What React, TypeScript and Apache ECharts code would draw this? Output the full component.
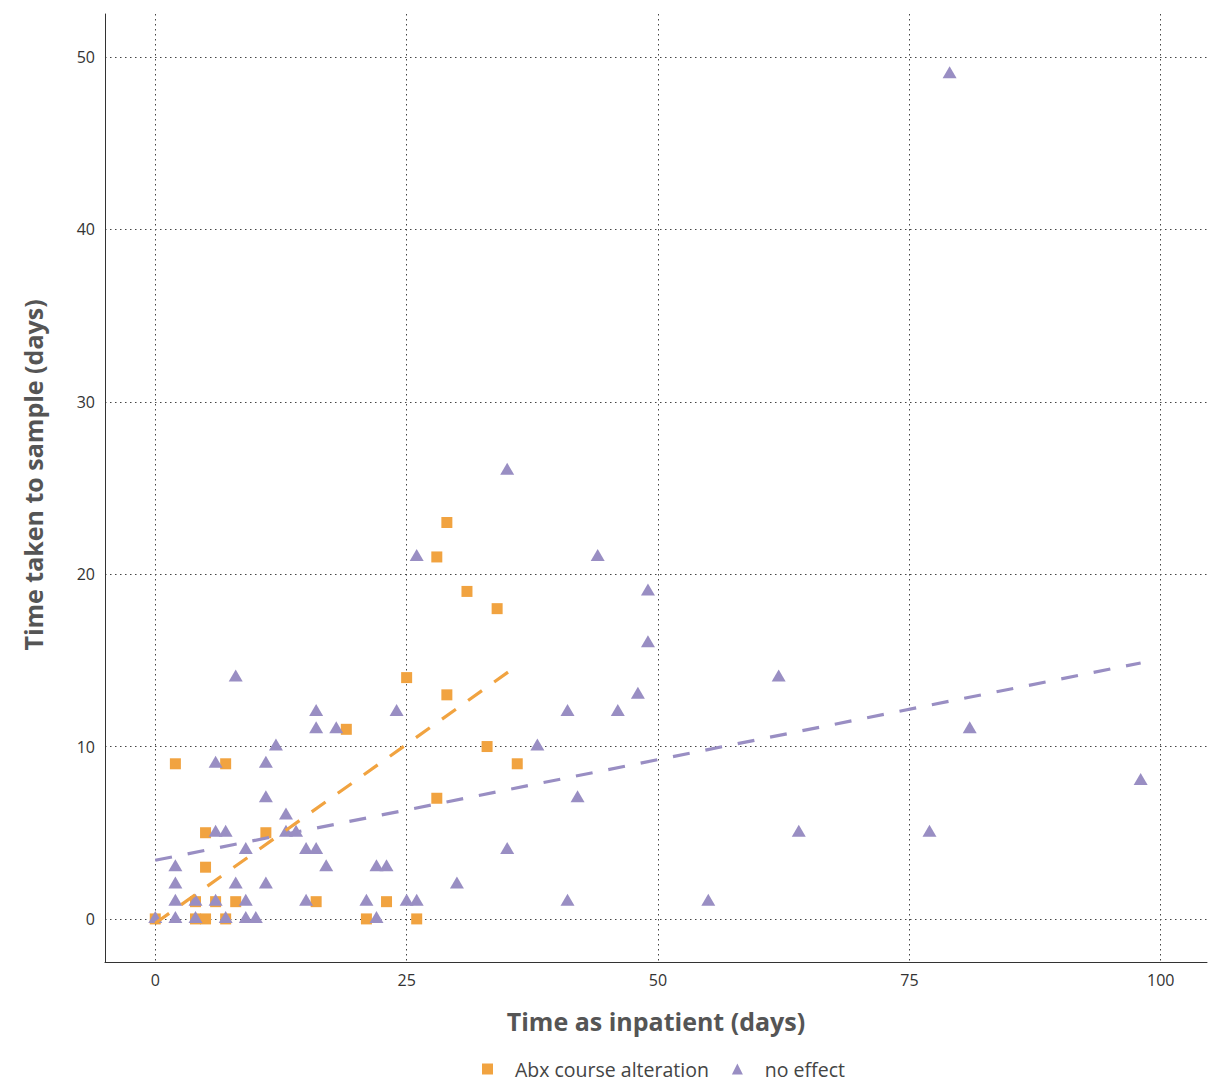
import React, { useEffect, useRef } from "react";
import * as echarts from "echarts";

const abxX = [0, 2, 4, 4, 5, 5, 5, 6, 7, 7, 8, 11, 16, 19, 21, 23, 25, 26, 28, 28, 29, 29, 31, 33, 34, 36];
const abxY = [0, 9, 0, 1, 0, 3, 5, 1, 9, 0, 1, 5, 1, 11, 0, 1, 14, 0, 7, 21, 13, 23, 19, 10, 18, 9];

const noEffX = [0, 2, 2, 2, 2, 4, 4, 6, 6, 6, 7, 7, 8, 8, 9, 9, 9, 10, 11, 11, 11, 12, 13, 13, 14, 15, 15, 16, 16, 16, 17, 18, 21, 22, 22, 23, 24, 25, 26, 26, 30, 35, 35, 38, 41, 41, 42, 44, 46, 48, 49, 49, 55, 62, 64, 77, 79, 81, 98];
const noEffY = [0, 0, 1, 2, 3, 0, 1, 1, 5, 9, 0, 5, 2, 14, 0, 1, 4, 0, 2, 7, 9, 10, 5, 6, 5, 1, 4, 4, 11, 12, 3, 11, 1, 0, 3, 3, 12, 1, 1, 21, 2, 4, 26, 10, 1, 12, 7, 21, 12, 13, 16, 19, 1, 14, 5, 5, 49, 11, 8];

const abxTrendX = [0, 35.4];
const abxTrendY = [-0.25, 14.45];
const noEffTrendX = [0, 98];
const noEffTrendY = [3.4, 14.85];

const xTicks = [0, 25, 50, 75, 100];
const yTicks = [0, 10, 20, 30, 40, 50];

const ORANGE = "#f1a340";
const PURPLE = "#998ec3";
const FONT = "'Open Sans'";

export default function App() {
  const ref = useRef<HTMLDivElement>(null);
  useEffect(() => {
    if (!ref.current) return;
    const chart = echarts.init(ref.current, undefined, { renderer: "svg" });
    const zip = (xs: number[], ys: number[]) => xs.map((x, i) => [x, ys[i]]);
    const gridLine = { show: true, lineStyle: { color: "#444", width: 1, type: [1.5, 3.5] as any } };
    chart.setOption({
      animation: false,
      backgroundColor: "#ffffff",
      textStyle: { fontFamily: FONT },
      grid: { left: 105, right: 1, top: 14, bottom: 120, containLabel: false },
      xAxis: {
        type: "value",
        min: -5,
        max: 104.6,
        name: "Time as inpatient (days)",
        nameLocation: "middle",
        nameGap: 46,
        nameTextStyle: { fontSize: 25, fontWeight: "bold", color: "#555", fontFamily: FONT },
        axisLine: { show: true, onZero: false, lineStyle: { color: "#333", width: 1 } },
        axisTick: { show: false, customValues: xTicks },
        axisLabel: { customValues: xTicks, color: "#333", fontSize: 16, margin: 10, fontFamily: FONT },
        splitLine: gridLine,
      },
      yAxis: {
        type: "value",
        min: -2.5,
        max: 52.5,
        name: "Time taken to sample (days)",
        nameLocation: "middle",
        nameGap: 60,
        nameTextStyle: { fontSize: 25, fontWeight: "bold", color: "#555", fontFamily: FONT, padding: [0, 0, 0, 26] },
        axisLine: { show: true, onZero: false, lineStyle: { color: "#333", width: 1 } },
        axisTick: { show: false, customValues: yTicks },
        axisLabel: { customValues: yTicks, color: "#333", fontSize: 16, margin: 10, fontFamily: FONT },
        splitLine: gridLine,
      },
      legend: {
        data: [
          { name: "Abx course alteration", icon: "rect" },
          { name: "no effect", icon: "triangle" },
        ],
        left: 482,
        top: 1059,
        padding: 0,
        itemWidth: 11,
        itemHeight: 11,
        itemGap: 23,
        textStyle: { fontSize: 19.5, color: "#444", fontFamily: FONT, padding: [0, 0, 0, 17], lineHeight: 20 },
      },
      series: [
        {
          name: "Abx course alteration",
          type: "scatter",
          symbol: "rect",
          symbolSize: 11,
          itemStyle: { color: ORANGE, opacity: 1 },
          data: zip(abxX, abxY),
          z: 2,
        },
        {
          name: "no effect",
          type: "scatter",
          symbol: "triangle",
          symbolSize: [14, 12],
          symbolOffset: [0, -2],
          itemStyle: { color: PURPLE, opacity: 1 },
          data: zip(noEffX, noEffY),
          z: 3,
        },
        {
          name: "abx-trend",
          type: "line",
          showSymbol: false,
          symbol: "none",
          data: zip(abxTrendX, abxTrendY),
          lineStyle: { color: ORANGE, width: 3.2, type: [17, 15] as any },
          z: 4,
        },
        {
          name: "noeff-trend",
          type: "line",
          showSymbol: false,
          symbol: "none",
          data: zip(noEffTrendX, noEffTrendY),
          lineStyle: { color: PURPLE, width: 3.2, type: [17, 16] as any },
          z: 5,
        },
      ],
    });
    return () => chart.dispose();
  }, []);
  return (
    <div
      ref={ref}
      style={{ position: "absolute", left: 0, top: 0, width: 1208, height: 1082 }}
    />
  );
}
